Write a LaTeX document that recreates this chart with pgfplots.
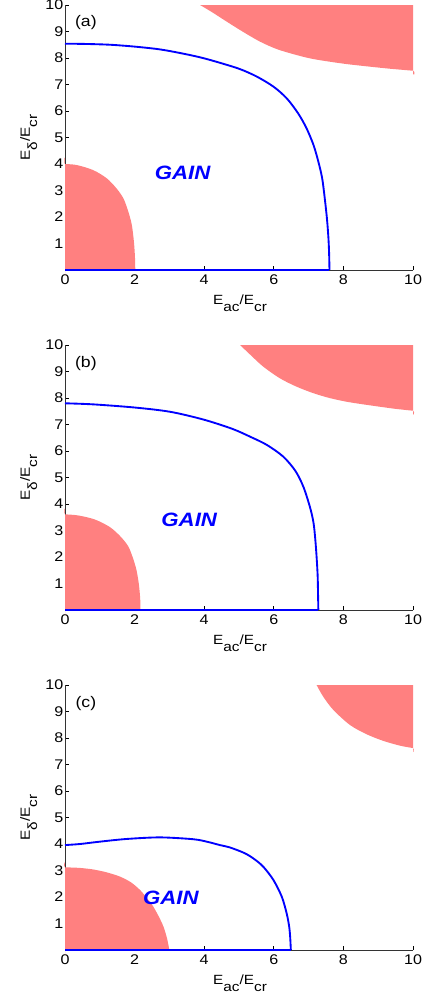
\documentclass[border=0pt]{standalone}
\usepackage{fontspec}
\setmainfont{Liberation Sans}[FakeStretch=1.15]
\usepackage{pgfplots}
\pgfplotsset{compat=1.18}

\definecolor{lossred}{RGB}{255,128,128}
\definecolor{gainblue}{RGB}{0,0,255}

\pgfplotsset{
  panel/.style={
    scale only axis, width=261pt, height=198.75pt,
    xmin=0, xmax=10, ymin=0, ymax=10,
    xtick={0,2,...,10}, ytick={1,...,10},
    axis x line=bottom, axis y line=left,
    axis line style={-, black!80, line width=0.5pt},
    tick align=inside, major tick length=3pt,
    tick style={black, line width=0.5pt},
    ticklabel style={font=\fontsize{10.5}{12}\selectfont},
    yticklabel style={inner xsep=1pt},
    /pgf/number format/assume math mode=true,
    label style={font=\fontsize{10.8}{13}\selectfont},
    xlabel={E\raisebox{-0.55em}{ac}/E\raisebox{-0.55em}{cr}},
    ylabel={E\raisebox{-0.55em}{δ}/E\raisebox{-0.55em}{cr}},
    every axis x label/.style={at={(axis description cs:0.503,-0.125)}, anchor=center},
    every axis y label/.style={at={(axis description cs:-0.104,0.5)}, anchor=center, rotate=90},
    clip=false,
  },
  lossfill/.style={fill=lossred, draw=none, smooth, tension=0.5},
  gainline/.style={gainblue, line width=1.4pt, line join=round},
}
\tikzset{
  gaintext/.style={font=\fontsize{14.5}{17}\selectfont\bfseries\itshape, text=gainblue},
  tagtext/.style={font=\fontsize{11.5}{13}\selectfont},
}

\begin{document}
\begin{tikzpicture}
\useasboundingbox (0pt,0pt) rectangle (322.5pt,-752.25pt);

% ---- (a)
\begin{axis}[panel, at={(48.75pt,-202.5pt)}, anchor=south west]
\addplot[lossfill] coordinates {
  (0,0) (0,0) (0,4.0) (0,4.0) (0.34,3.96) (0.81,3.77) (1.2,3.46) (1.48,3.08)
  (1.68,2.70) (1.82,2.20) (1.92,1.70) (1.98,1.07) (2.01,0.5) (2.02,0) (2.02,0)} -- cycle;
\addplot[lossfill] coordinates {
  (3.88,10) (4.2,9.75) (4.65,9.37) (5.1,9.0) (5.60,8.62) (6.1,8.33) (6.66,8.11)
  (7.1,7.97) (7.61,7.86) (8.1,7.77) (8.57,7.70) (9.3,7.60) (10,7.52) (10,7.52) (10,10)} -- cycle;
\addplot[gainline, smooth, tension=0.5] coordinates {
  (0,8.54) (0.6,8.53) (1.3,8.50) (2.0,8.43) (2.7,8.33) (3.3,8.19) (3.9,8.02)
  (4.45,7.82) (5.03,7.58) (5.51,7.30) (5.99,6.92) (6.37,6.48) (6.70,5.91)
  (6.94,5.35) (7.14,4.72) (7.28,4.09) (7.39,3.46) (7.47,2.64) (7.53,1.9)
  (7.57,1.2) (7.59,0.6) (7.60,0)};
\addplot[gainline] coordinates {(0,0) (7.60,0)};
\node[gaintext] at (axis cs:3.38,3.67) {GAIN};
\node[tagtext] at (axis cs:0.6,9.33) {(a)};
\end{axis}

% ---- (b)
\begin{axis}[panel, at={(48.75pt,-457.5pt)}, anchor=south west]
\addplot[lossfill] coordinates {
  (0,0) (0,0) (0,3.61) (0,3.61) (0.37,3.57) (0.85,3.42) (1.29,3.13) (1.59,2.78)
  (1.81,2.42) (1.94,2.01) (2.05,1.53) (2.12,1.0) (2.16,0.45) (2.17,0) (2.17,0)} -- cycle;
\addplot[lossfill] coordinates {
  (5.03,10) (5.35,9.6) (5.70,9.18) (6.18,8.74) (6.65,8.43) (7.14,8.18) (7.6,8.0)
  (8.09,7.86) (8.57,7.76) (9.05,7.67) (9.5,7.59) (10,7.52) (10,7.52) (10,10)} -- cycle;
\addplot[gainline, smooth, tension=0.5] coordinates {
  (0,7.80) (0.81,7.76) (2.01,7.64) (3.02,7.48) (3.97,7.19) (4.8,6.84) (5.32,6.54)
  (5.80,6.23) (6.27,5.79) (6.62,5.25) (6.85,4.65) (7.04,3.88) (7.14,3.3)
  (7.19,2.7) (7.23,2.0) (7.26,1.3) (7.27,0.7) (7.28,0)};
\addplot[gainline] coordinates {(0,0) (7.28,0)};
\node[gaintext] at (axis cs:3.57,3.42) {GAIN};
\node[tagtext] at (axis cs:0.6,9.3) {(b)};
\end{axis}

% ---- (c)
\begin{axis}[panel, at={(48.75pt,-712.5pt)}, anchor=south west]
\addplot[lossfill] coordinates {
  (0,0) (0,0) (0,3.12) (0,3.12) (0.4,3.10) (0.81,3.04) (1.2,2.93) (1.58,2.77)
  (1.9,2.55) (2.16,2.26) (2.36,1.95) (2.54,1.63) (2.7,1.25) (2.83,0.88)
  (2.93,0.45) (3.0,0) (3.0,0)} -- cycle;
\addplot[lossfill] coordinates {
  (7.23,10) (7.42,9.56) (7.71,9.06) (8.19,8.49) (8.67,8.14) (9.15,7.89)
  (9.63,7.71) (10,7.62) (10,7.62) (10,10)} -- cycle;
\addplot[gainline, smooth, tension=0.5] coordinates {
  (0,3.96) (0.43,4.00) (1.01,4.09) (1.77,4.19) (2.73,4.25) (3.69,4.18) (4.1,4.08)
  (4.45,3.96) (4.74,3.87) (5.17,3.65) (5.45,3.42) (5.70,3.14) (5.99,2.64)
  (6.23,2.01) (6.37,1.38) (6.44,0.9) (6.47,0.5) (6.49,0)};
\addplot[gainline] coordinates {(0,0) (6.49,0)};
\node[gaintext] at (axis cs:3.04,1.96) {GAIN};
\node[tagtext] at (axis cs:0.6,9.31) {(c)};
\end{axis}
\end{tikzpicture}
\end{document}
